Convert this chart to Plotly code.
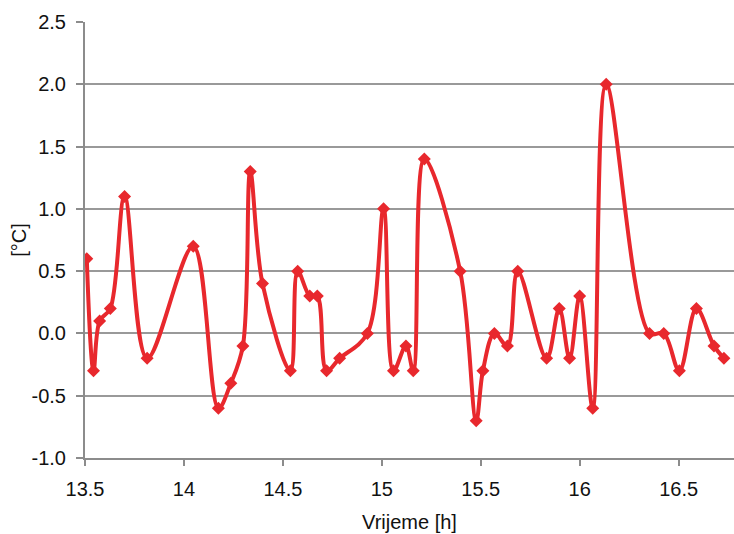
import plotly.graph_objects as go

time_h = [13.509, 13.543, 13.574, 13.628, 13.700, 13.814, 14.047, 14.174, 14.237, 14.298,
          14.335, 14.397, 14.538, 14.575, 14.636, 14.674, 14.721, 14.787, 14.927, 15.009,
          15.059, 15.122, 15.159, 15.215, 15.396, 15.477, 15.511, 15.569, 15.635, 15.687,
          15.833, 15.897, 15.949, 16.000, 16.066, 16.134, 16.353, 16.425, 16.504, 16.590,
          16.679, 16.729]
temp_c = [0.6, -0.3, 0.1, 0.2, 1.1, -0.2, 0.7, -0.6, -0.4, -0.1,
          1.3, 0.4, -0.3, 0.5, 0.3, 0.3, -0.3, -0.2, 0.0, 1.0,
          -0.3, -0.1, -0.3, 1.4, 0.5, -0.7, -0.3, 0.0, -0.1, 0.5,
          -0.2, 0.2, -0.2, 0.3, -0.6, 2.0, 0.0, 0.0, -0.3, 0.2,
          -0.1, -0.2]

x_ticks = [13.5, 14, 14.5, 15, 15.5, 16, 16.5]
x_tick_labels = ["13.5", "14", "14.5", "15", "15.5", "16", "16.5"]
y_ticks = [-1.0, -0.5, 0.0, 0.5, 1.0, 1.5, 2.0, 2.5]
y_tick_labels = ["-1.0", "-0.5", "0.0", "0.5", "1.0", "1.5", "2.0", "2.5"]

red = "#e8282d"
fig = go.Figure(go.Scatter(
    x=time_h, y=temp_c, mode="lines+markers",
    line=dict(color=red, width=4, shape="spline", smoothing=1.0),
    marker=dict(symbol="diamond", size=10, color=red),
))

font = dict(family="Liberation Sans, Arial, sans-serif", size=20, color="#111111")
fig.update_layout(
    width=734, height=534,
    margin=dict(l=85, r=0, t=22, b=76),
    paper_bgcolor="white", plot_bgcolor="white",
    showlegend=False,
    font=font,
    xaxis=dict(
        range=[13.5, 16.78], tickvals=x_ticks, ticktext=x_tick_labels,
        showgrid=False, zeroline=False,
        showline=True, linecolor="#8c8c8c", linewidth=2,
        ticks="outside", ticklen=6, tickcolor="#8c8c8c", tickwidth=1.5,
        ticklabelstandoff=6,
        title=dict(text="Vrijeme [h]", standoff=16, font=font),
    ),
    yaxis=dict(
        range=[-1.0, 2.5], tickvals=y_ticks, ticktext=y_tick_labels,
        showgrid=True, gridcolor="#999999", gridwidth=1.8,
        zeroline=False,
        showline=True, linecolor="#8c8c8c", linewidth=2,
        ticks="outside", ticklen=7, tickcolor="#8c8c8c", tickwidth=1.5,
        ticklabelstandoff=6,
        title=dict(text="[°C]", standoff=0, font=font),
    ),
)
fig.write_html("out.html")
